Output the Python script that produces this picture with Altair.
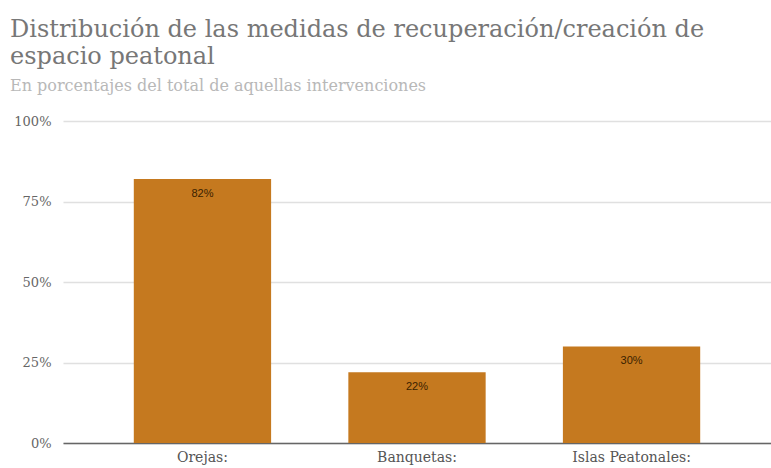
import altair as alt
import pandas as pd

categories = ["Orejas:", "Banquetas:", "Islas Peatonales:"]
values = [82, 22, 30]
labels = ["82%", "22%", "30%"]
y_ticks = [0, 25, 50, 75, 100]

df = pd.DataFrame({"cat": categories, "val": values, "lab": labels})

serif = "DejaVu Serif"

base = alt.Chart(df).encode(
    x=alt.X("cat:N", sort=categories, title=None,
            scale=alt.Scale(paddingInner=0.36, paddingOuter=0.33),
            axis=alt.Axis(labelAngle=0, labelFont=serif, labelFontSize=14,
                          labelColor="#555555", ticks=False, domainColor="#666666",
                          domainWidth=1.5, labelPadding=7)),
)

bars = base.mark_bar(color="#C5791F").encode(
    y=alt.Y("val:Q", title=None,
            scale=alt.Scale(domain=[0, 100]),
            axis=alt.Axis(values=y_ticks, labelExpr="datum.value + '%'",
                          labelFont=serif, labelFontSize=13, labelColor="#666666",
                          ticks=False, domain=False, gridColor="#e0e0e0",
                          gridWidth=1.5, labelPadding=12))
)

text = base.mark_text(baseline="middle", dy=15, font="Arial", fontSize=11,
                      color="#3a1f00").encode(
    y=alt.Y("val:Q"), text="lab:N")

chart = (bars + text).properties(
    width=708, height=322,
    title=alt.Title(
        text=["Distribución de las medidas de recuperación/creación de", "espacio peatonal"],
        subtitle="En porcentajes del total de aquellas intervenciones",
        anchor="start", frame="group", dx=-53, offset=21,
        font=serif, fontSize=24, fontWeight="normal", color="#777777", lineHeight=27,
        subtitleFont=serif, subtitleFontSize=16, subtitleColor="#b8b8b8",
        subtitlePadding=9),
    autosize=alt.AutoSizeParams(type="none"),
    padding={"left": 63, "top": 121, "right": 0, "bottom": 25},
).configure_view(stroke=None)

chart.save("out.html", embed_options={"renderer": "svg", "actions": False})
